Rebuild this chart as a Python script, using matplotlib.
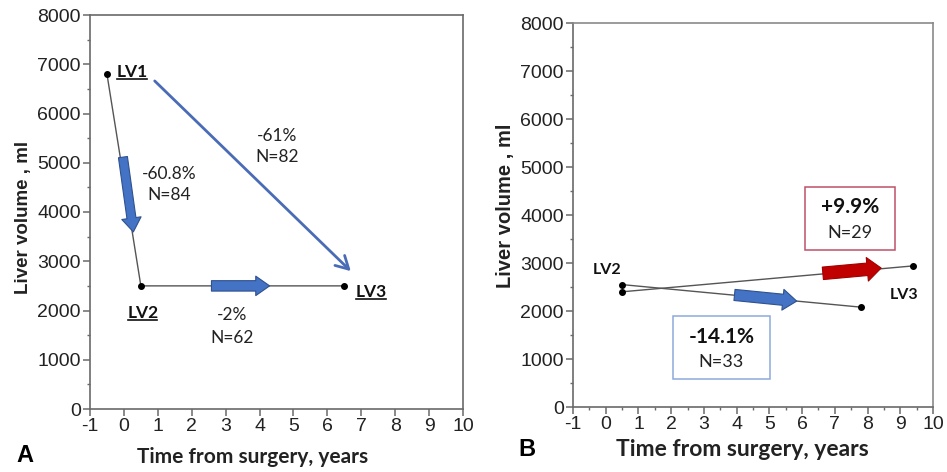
import matplotlib
matplotlib.use("Agg")
import matplotlib.pyplot as plt
from matplotlib.patches import FancyArrowPatch, Rectangle
from matplotlib.lines import Line2D
from matplotlib.ticker import MultipleLocator

# ---------------- data ----------------
# Panel A: mean liver volume at the three measurement points
a_labels = ["LV1", "LV2", "LV3"]
a_time = [-0.5, 0.5, 6.5]
a_volume = [6800, 2500, 2500]
a_changes = ["-60.8%", "-2%", "-61%"]
a_n = [84, 62, 82]

# Panel B: two subgroups from LV2 to LV3
b_start_time = [0.5, 0.5]
b_start_volume = [2550, 2400]
b_end_time = [7.8, 9.4]
b_end_volume = [2080, 2940]
b_changes = ["-14.1%", "+9.9%"]
b_n = [33, 29]

x_ticks = list(range(-1, 11))
y_ticks = list(range(0, 8001, 1000))

# ---------------- style ----------------
W, H = 947, 472
fig = plt.figure(figsize=(W / 100, H / 100), dpi=100)
SPINE = "#6a6a6a"
TICKFONT = "Liberation Sans"
CAL = "Lato"
BLUE = "#4472C4"
BLUE_EDGE = "#2F528F"
RED = "#C00000"

axA = fig.add_axes([90 / W, 1 - 409 / H, (463 - 90) / W, (409 - 15) / H])
axB = fig.add_axes([573 / W, 1 - 407 / H, (933 - 573) / W, (407 - 23) / H])

for ax in (axA, axB):
    ax.set_xlim(-1, 10)
    ax.set_ylim(0, 8000)
    ax.set_xticks(x_ticks)
    ax.set_yticks(y_ticks)
    ax.set_xticklabels([str(t) for t in x_ticks], fontfamily=TICKFONT, fontsize=14, color="#222222")
    ax.set_yticklabels([str(t) for t in y_ticks], fontfamily=TICKFONT, fontsize=14, color="#222222")
    ax.yaxis.set_minor_locator(MultipleLocator(500))
    for s in ax.spines.values():
        s.set_color(SPINE)
        s.set_linewidth(1.2)
    ax.tick_params(which="major", direction="out", length=5, width=1.1, color=SPINE, pad=1.5)
    ax.tick_params(which="minor", direction="out", length=2.5, width=1.0, color=SPINE)

axA.set_ylabel("Liver volume , ml", fontfamily="Liberation Sans", fontweight="bold",
               fontsize=13.5, color="#222222")
axA.set_xlabel("Time from surgery, years", fontfamily=CAL, fontweight="bold",
               fontsize=15, color="#222222")
axB.set_ylabel("Liver volume , ml", fontfamily="Liberation Sans", fontweight="bold",
               fontsize=14.5, color="#222222")
axB.set_xlabel("Time from surgery, years", fontfamily=CAL, fontweight="bold",
               fontsize=16.5, color="#222222")

def set_label_px(ax, xl_px, yl_px):
    bb = ax.get_position()
    x0, x1 = bb.x0 * W, bb.x1 * W
    ytop, ybot = (1 - bb.y1) * H, (1 - bb.y0) * H
    ax.xaxis.set_label_coords((xl_px[0] - x0) / (x1 - x0), (ybot - xl_px[1]) / (ybot - ytop))
    ax.yaxis.set_label_coords((yl_px[0] - x0) / (x1 - x0), (ybot - yl_px[1]) / (ybot - ytop))
    ax.xaxis.label.set_va("center")
    ax.yaxis.label.set_va("center")

set_label_px(axA, (253, 457), (24, 217))
set_label_px(axB, (742, 449), (505, 206))

axB.xaxis.set_minor_locator(MultipleLocator(0.5))
for s in ("top", "right"):
    axB.spines[s].set_color("#8a8a8a")

# ---------------- panel A ----------------
axA.plot(a_time, a_volume, color="#555555", lw=1.0, zorder=2)
axA.scatter(a_time, a_volume, s=16, color="black", zorder=4)

# thin arrow LV1 -> LV3
axA.add_patch(FancyArrowPatch((0.85, 6700), (6.75, 2760), arrowstyle="->,head_length=9,head_width=5",
                              color="#4a6cb6", lw=2.0, zorder=3))
# fat arrows
axA.add_patch(FancyArrowPatch((-0.04, 5170), (0.29, 3540),
                              arrowstyle="simple,head_length=10,head_width=14,tail_width=6.5",
                              mutation_scale=1, fc=BLUE, ec=BLUE_EDGE, lw=0.8, zorder=3))
axA.add_patch(FancyArrowPatch((2.5, 2500), (4.38, 2500),
                              arrowstyle="simple,head_length=10,head_width=14,tail_width=7.5",
                              mutation_scale=1, fc=BLUE, ec=BLUE_EDGE, lw=0.8, zorder=3))

lv_pos_A = [(0.24, 6840), (0.56, 1950), (7.29, 2380)]
lv_texts = []
for lab, (x, y) in zip(a_labels, lv_pos_A):
    t = axA.text(x, y, lab, fontfamily=CAL, fontweight="bold", fontsize=12.5,
                 ha="center", va="center", color="#111111")
    lv_texts.append(t)

chg_pos_A = [(1.33, 4770, 4345), (3.19, 1910, 1440), (4.52, 5545, 5117)]
for c, n, (x, y1, y2) in zip(a_changes, a_n, chg_pos_A):
    axA.text(x, y1, c, fontfamily=CAL, fontsize=12.5, ha="center", va="center", color="#222222")
    axA.text(x, y2, f"N={n}", fontfamily=CAL, fontsize=12.5, ha="center", va="center", color="#222222")

# ---------------- panel B ----------------
for x0, y0, x1, y1 in zip(b_start_time, b_start_volume, b_end_time, b_end_volume):
    axB.plot([x0, x1], [y0, y1], color="#555555", lw=1.0, zorder=2)
axB.scatter(b_start_time + b_end_time, b_start_volume + b_end_volume, s=16, color="black", zorder=4)

axB.add_patch(FancyArrowPatch((3.85, 2340), (5.92, 2200),
                              arrowstyle="simple,head_length=10,head_width=15,tail_width=8",
                              mutation_scale=1, fc=BLUE, ec=BLUE_EDGE, lw=0.8, zorder=3))
axB.add_patch(FancyArrowPatch((6.55, 2780), (8.5, 2900),
                              arrowstyle="simple,head_length=10,head_width=17,tail_width=9",
                              mutation_scale=1, fc=RED, ec="#a00000", lw=0.8, zorder=3))

axB.text(0.04, 2860, "LV2", fontfamily=CAL, fontweight="bold", fontsize=11.5,
         ha="center", va="center", color="#111111")
axB.text(9.12, 2330, "LV3", fontfamily=CAL, fontweight="bold", fontsize=11.5,
         ha="center", va="center", color="#111111")

boxes = [((2.06, 583), 5.02 - 2.06, 1896 - 583, "#8EA9DB", (3.53, 1458, 938)),
         ((6.09, 3271), 8.85 - 6.09, 4583 - 3271, "#C0506A", (7.47, 4167, 3625))]
for c, n, (xy, w, h, ec, (tx, ty1, ty2)) in zip(b_changes, b_n, boxes):
    axB.add_patch(Rectangle(xy, w, h, fill=False, ec=ec, lw=1.1, zorder=3))
    axB.text(tx, ty1, c, fontfamily=CAL, fontweight="bold", fontsize=15,
             ha="center", va="center", color="#111111")
    axB.text(tx, ty2, f"N={n}", fontfamily=CAL, fontsize=13, ha="center", va="center", color="#222222")

# ---------------- panel letters ----------------
fig.text(25 / W, 1 - 456 / H, "A", fontfamily="Liberation Sans", fontweight="bold",
         fontsize=17, ha="center", va="center")
fig.text(527 / W, 1 - 450 / H, "B", fontfamily="Liberation Sans", fontweight="bold",
         fontsize=17, ha="center", va="center")

# ---------------- underlines for LV labels in panel A ----------------
fig.canvas.draw()
r = fig.canvas.get_renderer()
inv = fig.transFigure.inverted()
for t in lv_texts:
    bb = t.get_window_extent(r)
    (fx0, fy), = inv.transform([(bb.x0 + 1, bb.y0 + 1)])
    (fx1, _), = inv.transform([(bb.x1 - 1, bb.y0 + 1)])
    fig.add_artist(Line2D([fx0, fx1], [fy, fy], transform=fig.transFigure, color="#111111", lw=1.2))

fig.savefig("out.png", dpi=100)
